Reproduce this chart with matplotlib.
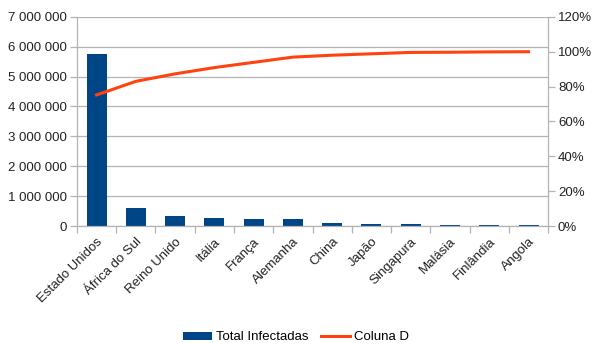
import matplotlib.pyplot as plt
import numpy as np
from matplotlib.ticker import FuncFormatter, MultipleLocator

paises = ['Estado Unidos', 'África do Sul', 'Reino Unido', 'Itália', 'França',
          'Alemanha', 'China', 'Japão', 'Singapura', 'Malásia', 'Finlândia', 'Angola']
total_infectadas = [5760000, 600000, 330000, 270000, 230000, 230000,
                    90000, 60000, 60000, 25000, 25000, 25000]
coluna_d = [0.752, 0.830, 0.873, 0.909, 0.939, 0.969,
            0.980, 0.988, 0.996, 0.997, 0.999, 1.000]

plt.rcParams['font.family'] = ['Liberation Sans', 'DejaVu Sans']

azul = '#004586'
laranja = '#ff420e'
cinza = '#b3b3b3'

fig = plt.figure(figsize=(5.92, 3.44), dpi=100)
ax = fig.add_axes([0.130, 0.343, 0.796, 0.608])
ax2 = ax.twinx()

x = np.arange(len(paises))
ax.bar(x, total_infectadas, width=0.51, color=azul, label='Total Infectadas', zorder=2)
ax2.plot(x, coluna_d, color=laranja, lw=2.2, label='Coluna D', zorder=3)

ax.set_xlim(-0.5, len(paises) - 0.5)
ax.set_ylim(0, 7000000)
ax2.set_ylim(0, 1.2)
ax.yaxis.set_major_locator(MultipleLocator(1000000))
ax2.yaxis.set_major_locator(MultipleLocator(0.2))
ax.yaxis.set_major_formatter(FuncFormatter(lambda v, p: f'{int(v):,}'.replace(',', ' ')))
ax2.yaxis.set_major_formatter(FuncFormatter(lambda v, p: f'{v * 100:.0f}%'))

ax.grid(axis='y', color=cinza, lw=0.9, zorder=0)
ax.set_axisbelow(True)

# rotulos no centro, tracinhos nas divisas entre categorias
ax.set_xticks(x)
ax.set_xticklabels(paises, rotation=45, ha='right', rotation_mode='anchor')
ax.set_xticks(np.arange(-0.5, len(paises)), minor=True)
ax.tick_params(axis='x', which='major', length=0, pad=7)
ax.tick_params(axis='x', which='minor', length=5, color=cinza, width=0.9)
ax.tick_params(axis='y', length=5, color=cinza, width=0.9, pad=2)
ax2.tick_params(axis='y', length=5, color=cinza, width=0.9, pad=2)
for a in (ax, ax2):
    a.tick_params(labelsize=9.5, labelcolor='#222222')
    for lado in ['top', 'right', 'left', 'bottom']:
        a.spines[lado].set_visible(False)
ax.spines['left'].set_visible(True)
ax.spines['bottom'].set_visible(True)
ax2.spines['right'].set_visible(True)
for s in (ax.spines['left'], ax.spines['bottom'], ax2.spines['right']):
    s.set_color(cinza)
    s.set_linewidth(0.9)

h1, l1 = ax.get_legend_handles_labels()
h2, l2 = ax2.get_legend_handles_labels()
fig.legend(h1 + h2, l1 + l2, loc='lower center', bbox_to_anchor=(0.5, -0.033), ncol=2,
           frameon=False, fontsize=9.5, handlelength=2.2, handleheight=0.6,
           columnspacing=1.0, handletextpad=0.3)

fig.savefig('out.png', dpi=100)
